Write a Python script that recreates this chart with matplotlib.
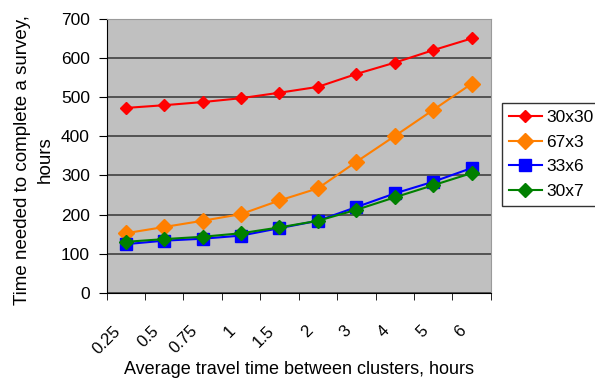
import matplotlib
matplotlib.use("Agg")
import matplotlib.pyplot as plt
import matplotlib.transforms as mtransforms
import numpy as np

plt.rcParams['font.family'] = ['Liberation Sans', 'DejaVu Sans']

categories = ["0.25", "0.5", "0.75", "1", "1.5", "2", "3", "4", "5", "6"]
s30x30 = [473, 480, 488, 498, 512, 527, 560, 589, 621, 651]
s67x3 = [152, 168, 184, 201, 236, 267, 335, 401, 468, 535]
s33x6 = [124, 133, 138, 146, 165, 184, 219, 254, 284, 319]
s30x7 = [130, 137, 143, 152, 167, 184, 212, 244, 275, 306]

fig = plt.figure(figsize=(5.95, 3.79), dpi=100)
ax = fig.add_axes([0.179, 0.228, 0.646, 0.721])
ax.set_facecolor('#C0C0C0')

x = np.arange(len(categories))
series = [
    ("30x30", s30x30, '#FF0000', 'D', 6),
    ("67x3", s67x3, '#FF7F00', 'D', 8),
    ("33x6", s33x6, '#0000FF', 's', 8),
    ("30x7", s30x7, '#008000', 'D', 7),
]
for name, vals, col, mk, ms in series:
    ax.plot(x, vals, color=col, marker=mk, markersize=ms, linewidth=1.5,
            label=name, markeredgecolor=col)

ax.set_xlim(-0.5, len(categories) - 0.5)
ax.set_ylim(0, 700)
ax.set_yticks(range(0, 701, 100))
ax.yaxis.grid(True, color='#404040', linewidth=1.2)
ax.set_axisbelow(True)

ax.set_xticks(x)
ax.set_xticklabels(categories, rotation=45, ha='right', rotation_mode='anchor', fontsize=12)
ax.tick_params(axis='x', length=0, pad=22)
offset = mtransforms.ScaledTranslation(-13 / 100, 0, fig.dpi_scale_trans)
for lab in ax.get_xticklabels():
    lab.set_transform(lab.get_transform() + offset)
ax.set_xticks(np.arange(-0.5, len(categories), 1.0), minor=True)
ax.tick_params(axis='x', which='minor', length=5, color='black')
ax.tick_params(axis='y', length=6, pad=6, labelsize=12.5)

for s in ['top', 'right']:
    ax.spines[s].set_color('#9A9A9A')
for s in ['left', 'bottom']:
    ax.spines[s].set_color('black')

ax.set_xlabel("Average travel time between clusters, hours", fontsize=13)
ax.xaxis.set_label_coords(0.5, -0.252)
ax.set_ylabel("Time needed to complete a survey,\nhours", fontsize=13.5,
              linespacing=1.4)
ax.yaxis.set_label_coords(-0.138, 0.4855)

leg = fig.legend(loc='upper left', bbox_to_anchor=(502/595, 1 - 103/379),
                 fancybox=False, edgecolor='black', fontsize=12.5,
                 handlelength=1.9, borderpad=0.4, labelspacing=0.55,
                 handletextpad=0.25, borderaxespad=0)
leg.get_frame().set_linewidth(1.0)

fig.savefig("out.png", dpi=100)
